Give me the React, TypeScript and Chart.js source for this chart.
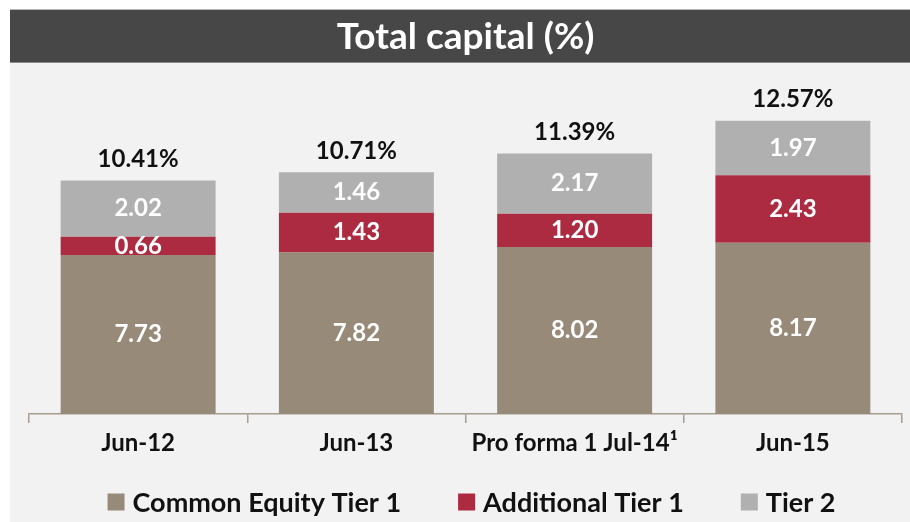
import React, { useEffect, useRef } from "react";
import { Chart, registerables } from "chart.js";

Chart.register(...registerables);

const categories = ["Jun-12", "Jun-13", "Pro forma 1 Jul-14\u00B9", "Jun-15"];
const seriesNames = ["Common Equity Tier 1", "Additional Tier 1", "Tier 2"];
const cet1 = [7.73, 7.82, 8.02, 8.17];
const at1 = [0.66, 1.43, 1.2, 2.43];
const tier2 = [2.02, 1.46, 2.17, 1.97];
const colors = ["#978a79", "#ad2b41", "#b0b0b0"];
const titleText = "Total capital (%)";

const FONT = "Lato, 'Open Sans', sans-serif";

const backgroundPlugin = {
  id: "bgPanel",
  beforeDraw(chart: any) {
    const { ctx, width, height } = chart;
    ctx.save();
    ctx.fillStyle = "#ffffff";
    ctx.fillRect(0, 0, width, height);
    ctx.fillStyle = "#f2f2f2";
    ctx.fillRect(10, 9, width - 10, height - 9);
    ctx.fillStyle = "#474747";
    ctx.fillRect(10, 9, width - 10, 54);
    ctx.fillStyle = "#b8b8b8";
    ctx.fillRect(10, 9, width - 10, 1);
    ctx.fillStyle = "#8a8a8a";
    ctx.fillRect(10, 62, width - 10, 1);
    ctx.restore();
  },
};

const labelsPlugin = {
  id: "segLabels",
  afterDatasetsDraw(chart: any) {
    const { ctx, chartArea } = chart;
    ctx.save();
    ctx.textAlign = "center";
    ctx.textBaseline = "middle";
    ctx.font = `bold 24px ${FONT}`;
    ctx.fillStyle = "#ffffff";
    chart.data.datasets.forEach((ds: any, i: number) => {
      const meta = chart.getDatasetMeta(i);
      meta.data.forEach((bar: any, j: number) => {
        const top = Math.max(Math.min(bar.y, bar.base), chartArea.top);
        const bottom = Math.min(Math.max(bar.y, bar.base), chartArea.bottom);
        ctx.fillText(Number(ds.data[j]).toFixed(2), bar.x, (top + bottom) / 2);
      });
    });
    const last = chart.getDatasetMeta(chart.data.datasets.length - 1);
    ctx.fillStyle = "#111111";
    ctx.font = `bold 24px ${FONT}`;
    last.data.forEach((bar: any, j: number) => {
      const total = chart.data.datasets.reduce((s: number, d: any) => s + Number(d.data[j]), 0);
      ctx.fillText(total.toFixed(2) + "%", bar.x, bar.y - 21);
    });
    ctx.restore();
  },
};

const legendPlugin = {
  id: "customLegend",
  afterDraw(chart: any) {
    const { ctx } = chart;
    ctx.save();
    ctx.font = `bold 27px ${FONT}`;
    ctx.textBaseline = "middle";
    ctx.textAlign = "left";
    const box = 17;
    const gapBoxText = 8;
    const gapItems = 57;
    const widths = seriesNames.map((n) => box + gapBoxText + ctx.measureText(n).width);
    const total = widths.reduce((a, b) => a + b, 0) + gapItems * (seriesNames.length - 1);
    let x = 471.5 - total / 2;
    const cy = 502;
    seriesNames.forEach((n, i) => {
      ctx.fillStyle = colors[i];
      ctx.fillRect(x, cy - box / 2, box, box);
      ctx.fillStyle = "#111111";
      ctx.fillText(n, x + box + gapBoxText, cy + 1);
      x += widths[i] + gapItems;
    });
    ctx.restore();
  },
};

export default function App() {
  const ref = useRef<HTMLCanvasElement | null>(null);
  useEffect(() => {
    if (!ref.current) return;
    const chart = new Chart(ref.current, {
      type: "bar",
      data: {
        labels: categories,
        datasets: [cet1, at1, tier2].map((d, i) => ({
          label: seriesNames[i],
          data: d,
          backgroundColor: colors[i],
          borderWidth: 0,
          barPercentage: 0.71,
          categoryPercentage: 1,
        })),
      },
      options: {
        animation: false,
        responsive: false,
        maintainAspectRatio: false,
        layout: { padding: { top: 9, left: 29, right: 8, bottom: 59 } },
        plugins: {
          legend: { display: false },
          tooltip: { enabled: false },
          title: {
            display: true,
            text: titleText,
            color: "#ffffff",
            font: { family: FONT, size: 37, weight: "bold", lineHeight: 1.0 },
            padding: { top: 10, bottom: 25 },
          },
        },
        scales: {
          x: {
            stacked: true,
            grid: {
              offset: true,
              drawOnChartArea: false,
              drawTicks: true,
              tickLength: 9,
              color: "#a89c8f",
              lineWidth: 1.5,
            },
            border: { color: "#a89c8f", width: 1.5 },
            ticks: {
              color: "#111111",
              padding: 8,
              font: { family: FONT, size: 24, weight: "bold", lineHeight: 1.0 },
              maxRotation: 0,
              autoSkip: false,
            },
          },
          y: {
            stacked: true,
            display: false,
            min: 2,
            max: 14,
          },
        },
      },
      plugins: [backgroundPlugin, labelsPlugin, legendPlugin],
    });
    return () => chart.destroy();
  }, []);
  return (
    <div style={{ position: "absolute", left: 0, top: 0, width: 910, height: 522 }}>
      <canvas ref={ref} width={910} height={522} style={{ width: 910, height: 522, display: "block" }} />
    </div>
  );
}
